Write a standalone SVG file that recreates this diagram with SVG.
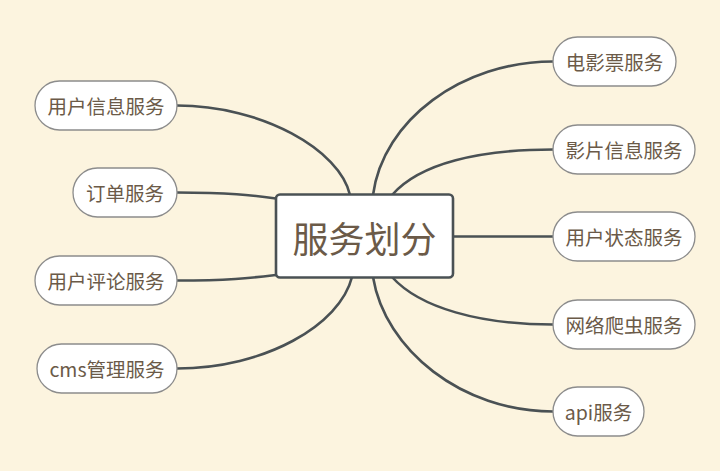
<svg xmlns="http://www.w3.org/2000/svg" width="720" height="471" viewBox="0 0 720 471">
<style>
.bg{fill:#fcf4df}
.edge{fill:none;stroke:#4a5154;stroke-width:2.6;stroke-linecap:round}
.leaf rect{fill:#ffffff;stroke:#8c8c8c;stroke-width:1.3}
.leaf text{font-family:"Noto Sans CJK SC","Noto Sans",sans-serif;font-size:19.5px;fill:#6b5a48;text-anchor:middle;dominant-baseline:central}
.root rect{fill:#ffffff;stroke:#4a5154;stroke-width:2.6}
.root text{font-family:"Noto Sans CJK SC","Noto Sans",sans-serif;font-size:36px;fill:#6b5a48;text-anchor:middle;dominant-baseline:central}
</style>
<rect class="bg" x="0" y="0" width="720" height="471"/>
<g id="connectors">
<path class="edge" d="M177,105.5 C262,105.5 340,150 350,195"/>
<path class="edge" d="M177,192.5 C230,192.5 250,195 276,198.5"/>
<path class="edge" d="M177,280.5 C230,280.5 250,278 276,275"/>
<path class="edge" d="M177,368.5 C265,368.5 340,325 352,277"/>
<path class="edge" d="M373,195 C383,120 462,61.5 553,61.5"/>
<path class="edge" d="M392,195 C420,163 480,149.5 553,149.5"/>
<path class="edge" d="M453,236.5 L553,236.5"/>
<path class="edge" d="M392,277 C420,308 480,324.5 553,324.5"/>
<path class="edge" d="M373,277 C385,350 462,411.5 553,411.5"/>
</g>
<g id="root" class="root">
<rect x="276" y="194.5" width="177" height="83" rx="4"/>
<text x="364.5" y="237">服务划分</text>
</g>
<g id="n-user-info" class="leaf"><rect x="35" y="81" width="142" height="49" rx="24.5"/><text x="106" y="105.5">用户信息服务</text></g>
<g id="n-order" class="leaf"><rect x="73" y="168" width="104" height="49" rx="24.5"/><text x="125" y="192.5">订单服务</text></g>
<g id="n-user-comment" class="leaf"><rect x="35" y="256" width="142" height="49" rx="24.5"/><text x="106" y="280.5">用户评论服务</text></g>
<g id="n-cms" class="leaf"><rect x="37" y="344" width="140" height="49" rx="24.5"/><text x="107" y="368.5">cms管理服务</text></g>
<g id="n-ticket" class="leaf"><rect x="553" y="37" width="123" height="49" rx="24.5"/><text x="614.5" y="61.5">电影票服务</text></g>
<g id="n-film-info" class="leaf"><rect x="553" y="125" width="142" height="49" rx="24.5"/><text x="624" y="149.5">影片信息服务</text></g>
<g id="n-user-state" class="leaf"><rect x="553" y="212" width="142" height="49" rx="24.5"/><text x="624" y="236.5">用户状态服务</text></g>
<g id="n-crawler" class="leaf"><rect x="553" y="300" width="142" height="49" rx="24.5"/><text x="624" y="324.5">网络爬虫服务</text></g>
<g id="n-api" class="leaf"><rect x="553" y="387" width="91" height="49" rx="24.5"/><text x="598.5" y="411.5">api服务</text></g>
</svg>
